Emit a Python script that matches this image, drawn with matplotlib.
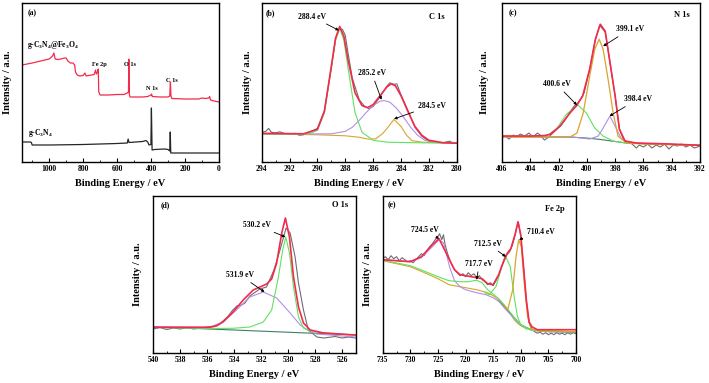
import matplotlib
matplotlib.use("Agg")
import matplotlib.pyplot as plt
from matplotlib.ticker import MultipleLocator

plt.rcParams['font.family'] = ['Liberation Serif', 'DejaVu Serif']
plt.rcParams['font.weight'] = 'bold'
plt.rcParams['mathtext.fontset'] = 'custom'
plt.rcParams['mathtext.rm'] = 'Liberation Serif:bold'
plt.rcParams['mathtext.it'] = 'Liberation Serif:bold'
plt.rcParams['mathtext.bf'] = 'Liberation Serif:bold'
plt.rcParams['mathtext.default'] = 'rm'

# ---------------- data ----------------
# (a) survey spectra
a_red_E = [1160, 1100, 1050, 1000, 980, 972, 965, 950, 930, 910, 900, 890, 875, 860, 850, 845, 835, 820,
           800, 790, 782, 770, 750, 735, 727, 722, 715, 711, 708, 700, 650, 600, 560, 540, 533, 531, 528,
           524, 500, 450, 420, 400, 397, 393, 350, 300, 290, 286, 283, 278, 200, 120, 100, 80, 60, 55, 50, 30, 0]
a_red_I = [97, 99, 101, 103, 106, 109, 103, 102.5, 103, 104, 104, 101, 99, 99, 97, 90, 87, 86,
           86.5, 89, 86, 86.5, 87, 87.5, 92, 88, 90, 93, 70, 67, 67, 67.5, 67.5, 69, 70, 103, 68,
           65, 65, 65, 65.5, 67, 68, 65.5, 65, 65, 66, 80, 66, 63.5, 63, 63, 64, 63.5, 64, 65.5, 62, 61, 60]
a_blk_E = [1160, 1110, 1105, 1100, 1000, 800, 600, 540, 535, 530, 450, 430, 420, 412, 401, 398, 394,
           380, 320, 300, 290, 287, 284, 250, 100, 0]
a_blk_I = [20, 20, 19.5, 17, 17, 17.5, 18.5, 19, 23, 19.5, 20.5, 21.5, 20, 17, 17.5, 54, 12,
           12.5, 13, 12.5, 11, 30, 9, 9, 9, 9]

# (b) C 1s
b_raw_E = [294, 293.7, 293.5, 293.3, 293, 292.7, 292.4, 292, 291.6, 291.3, 291, 290.6, 290, 289.5, 289,
           288.7, 288.4, 288.2, 288, 287.8, 287.5, 287, 286.6, 286.3, 286, 285.5, 285, 284.8, 284.5,
           284.3, 284, 283.5, 283, 282.5, 282, 281.5, 281, 280.5, 280.3, 280]
b_raw_I = [30, 31, 34, 30, 29.5, 30.5, 29, 28, 29, 27, 27.5, 30, 34, 52, 95,
           124, 135, 134, 128, 110, 85, 63, 56, 54, 56, 66, 77, 80, 78.5,
           79, 68, 52, 35, 26, 21, 20, 19.5, 21, 19.5, 19]
b_env_E = [294, 291, 290, 289.5, 289, 288.7, 288.4, 288.1, 287.8, 287.3, 286.8, 286.4, 286, 285.5, 285,
           284.7, 284.4, 284, 283.5, 283, 282.5, 282, 281, 280]
b_env_I = [29, 28.5, 33, 51, 97, 125, 137, 127, 103, 70, 57, 55, 58, 67, 76,
           79, 77, 67, 51, 36, 27, 22, 19.5, 19]
b_c1_E = [294, 291, 290.5, 290, 289.5, 289, 288.7, 288.4, 288.1, 287.8, 287.3, 286.8, 286, 285, 283, 280]
b_c1_I = [28.3, 28, 29, 32, 50, 95, 123, 135, 123, 95, 50, 30, 22, 20, 19.5, 19]
b_c2_E = [294, 289, 288, 287.5, 287, 286.5, 286, 285.5, 285.2, 284.8, 284.3, 283.8, 283.3, 282.8, 282.3, 281.5, 280]
b_c2_I = [28, 28.5, 31, 35, 42, 50, 57, 61.5, 62, 60.5, 54, 45, 35, 27, 22, 20, 19]
b_c3_E = [294, 292, 290, 288, 287, 286.3, 285.8, 285.3, 285, 284.5, 284, 283.6, 283.2, 282.5, 280]
b_c3_I = [28.3, 28, 27.5, 26.5, 25, 23, 23.5, 29, 34, 43, 36, 27, 21.5, 20, 19]

# (c) N 1s
c_raw_E = [406, 405.8, 405.5, 405.2, 405, 404.7, 404.4, 404.1, 403.8, 403.5, 403.3, 403, 402.7, 402.4,
           402.1, 401.8, 401.5, 401.2, 400.9, 400.7, 400.5, 400.2, 399.8, 399.4, 399.1, 398.7, 398.4,
           398.0, 397.7, 397.4, 397.1, 396.8, 396.5, 396.3, 396.0, 395.7, 395.4, 395.1, 394.8, 394.5,
           394.2, 393.9, 393.6, 393.3, 393, 392.7, 392.4, 392]
c_raw_I = [24, 26, 23, 27, 25, 28, 26, 29, 25, 29, 27, 22, 25, 29,
           33, 37, 43, 50, 56, 58, 62, 69, 93, 122, 137, 130, 103,
           66, 33, 22, 20, 18, 14, 17, 15, 18, 14, 17, 15, 18,
           13, 17, 16, 18, 15, 17, 14, 16]
c_env_E = [406, 404, 403, 402.6, 401.9, 401.2, 400.7, 400.3, 399.8, 399.4, 399.05, 398.7, 398.4, 398.0,
           397.7, 397.3, 396.5, 394, 392]
c_env_I = [26, 26, 26.5, 27.7, 36, 49, 57, 66, 93, 123, 138, 131, 103, 66, 33, 21, 19, 18, 16.7]
c_c1_E = [406, 402, 401.2, 400.7, 400.26, 399.8, 399.44, 399.13, 398.85, 398.5, 398.14, 397.8, 397.2, 396, 392]
c_c1_I = [25, 25, 25, 29, 49, 86, 113, 123, 113, 83, 49, 26, 19, 18, 16.7]
c_c2_E = [406, 402.86, 402.15, 401.44, 400.62, 400.03, 399.44, 398.85, 398.14, 397.2, 394, 392]
c_c2_I = [26, 26, 33, 48, 57, 49, 34, 26, 21, 19, 17.5, 16.7]
c_c3_E = [406, 401, 399.8, 399.2, 398.85, 398.37, 397.9, 397.55, 396.96, 394, 392]
c_c3_I = [25.5, 25, 23, 26, 34, 46, 33, 23, 19, 17.5, 16.7]
c_bg_E = [406, 401.2, 400, 399, 398, 397.2, 394, 392]
c_bg_I = [25.5, 25, 24, 22.5, 20.5, 19, 17.5, 16.7]

# (d) O 1s
d_raw_E = [540, 539.5, 539, 538.5, 538, 537.5, 537, 536.5, 536, 535.5, 535, 534.5, 534.1, 533.8, 533.45,
           533.2, 532.84, 532.1, 531.6, 531.05, 530.6, 530.15, 529.85, 529.48, 529.23, 528.86, 528.5,
           527.86, 527.36, 526.5, 526, 525.5, 525]
d_raw_I = [21, 22.5, 20.5, 22, 21, 22.5, 21, 22, 23, 24, 27, 33, 40, 44, 45,
           47, 54, 61, 63, 80, 100, 122, 117, 93, 67, 40, 20,
           13, 12, 13.5, 12, 13, 12]
d_env_E = [540, 535.82, 535.32, 534.83, 534.08, 533.33, 532.59, 532.09, 531.59, 531.22, 530.85, 530.47,
           530.2, 529.9, 529.6, 529.23, 528.86, 528.36, 527.36, 525]
d_env_I = [22.7, 22.7, 24, 28, 38, 50, 60, 63, 66, 71, 87, 117, 132, 113, 73, 43, 27, 20, 17, 15]
d_c1_E = [540, 536, 534.1, 532.84, 531.84, 531.22, 530.72, 530.4, 530.17, 529.9, 529.6, 529.23, 528.86, 528.1, 525]
d_c1_I = [22.5, 21.5, 21.7, 23, 28, 40, 73, 100, 113, 97, 63, 33, 22, 18, 15]
d_c2_E = [540, 535.82, 534.83, 533.83, 532.84, 531.84, 530.85, 529.85, 529.1, 528.36, 527.86, 525]
d_c2_I = [23.3, 22.7, 28, 40, 53, 58, 52, 37, 25, 18, 16, 13]
d_bg_E = [540, 525]
d_bg_I = [23.3, 15]

# (e) Fe 2p
e_raw_E = [735, 734.5, 734, 733.5, 733, 732.5, 732, 731.5, 731, 730.5, 730, 729.5, 729, 728.5, 728, 727.5,
           727, 726.5, 726, 725.5, 725, 724.7, 724.3, 724, 723.7, 723.3, 723, 722.5, 722, 721.5, 721,
           720.5, 720, 719.5, 719, 718.5, 718, 717.5, 717, 716.5, 716, 715.5, 715, 714.5, 714, 713.5,
           713, 712.5, 712, 711.5, 711, 710.7, 710.4, 710, 709.5, 709, 708.5, 708, 707.5, 707, 706.5,
           706, 705.5, 705, 704.5, 704, 703.5, 703, 702.5, 702, 701.5, 701, 700.5, 700]
e_raw_I = [94, 96, 93, 97, 94, 96, 92, 95, 93, 91, 92, 90, 93, 96, 99, 97,
           102, 106, 109, 113, 116, 119, 113, 118, 108, 100, 95, 88, 83, 80, 77,
           79, 76, 80, 77, 79, 75, 77, 73, 71, 68, 70, 67, 72, 77, 86,
           92, 98, 101, 108, 118, 126, 129, 116, 85, 52, 30, 24, 21, 19.5, 20.5,
           18.5, 20, 18, 19.5, 18, 20, 18.5, 19.5, 18, 20, 18.5, 20, 19]
e_env_E = [735, 730, 728, 726, 724.8, 723, 722, 721, 720, 718, 717, 716, 715, 714, 713, 712.5, 711.8,
           711, 710.5, 710, 709.5, 709, 708.5, 708, 707, 700]
e_env_I = [93, 91, 96, 108, 114, 94, 83, 78, 77, 75, 74, 69, 68, 78, 93, 99, 104,
           119, 131, 118, 86, 53, 31, 26, 23, 23]
e_c1_E = [735, 730, 728, 726, 724.8, 724, 723.3, 722.9, 722, 721, 720, 718, 716.3, 715, 713.9, 713, 712,
          711, 710, 709, 708, 705, 700]
e_c1_I = [93, 91, 95, 106, 113, 110, 95, 86, 72, 66, 63, 60, 58, 55, 51, 45, 39,
          33, 28, 25, 23, 21, 21]
e_c2_E = [735, 730, 727, 725, 723, 721, 719.5, 718, 717, 716, 715, 714, 713, 712, 711, 710, 709, 708, 705, 700]
e_c2_I = [92.5, 87, 80.5, 76, 72, 71, 71, 72.5, 70, 63, 58.5, 54, 48, 41, 34, 28, 25, 22.5, 21.5, 21]
e_c3_E = [716.5, 715.7, 714.5, 713.6, 712.8, 711.9, 711.2, 710.6, 710.0, 709.1, 708, 705, 700]
e_c3_I = [60, 58, 66, 83, 97, 86, 56, 36, 28, 24, 22.5, 21.5, 21]
e_c4_E = [713, 712.36, 711.46, 710.86, 710.38, 709.9, 709.36, 708.76, 708.16, 707, 700]
e_c4_I = [47, 43, 63, 96, 113, 106, 69, 36, 24, 22, 21]
e_bg_E = [735, 730, 727, 725, 723, 720, 718, 716, 715, 714, 713, 712.5, 712, 711.2, 710.5, 709.7, 708, 705, 700]
e_bg_I = [92, 86, 79, 74, 68, 65, 63, 60, 57, 53, 47, 44, 40, 33, 29, 26, 23, 21.5, 21]
e_bg2_E = [714, 712, 710, 708, 705, 700]
e_bg2_I = [52, 40, 28, 22.5, 21, 20.5]

# ---------------- style ----------------
RED = '#f42a4c'
GREEN = '#5fe35f'
PURPLE = '#b48ee6'
ORANGE = '#d9a52a'
GRAY = '#6e6e6e'
BG = '#3f7f62'
TICK_FS = 5.5
LAB_FS = 7.5
ANN_FS = 5.5

W, H = 709, 383
fig = plt.figure(figsize=(W / 100, H / 100), dpi=100)


def add_ax(l, r, t, b):
    return fig.add_axes([l / W, 1 - b / H, (r - l) / W, (b - t) / H])


def style(ax, xlim, ylim, major, minor, ylab_x):
    ax.set_xlim(*xlim)
    ax.set_ylim(*ylim)
    ax.set_yticks([])
    ax.xaxis.set_major_locator(MultipleLocator(major))
    ax.xaxis.set_minor_locator(MultipleLocator(minor))
    ax.tick_params(axis='x', which='major', direction='in', length=3, width=0.8,
                   labelsize=TICK_FS, pad=2.5)
    ax.tick_params(axis='x', which='minor', direction='in', length=1.6, width=0.6)
    for lab in ax.get_xticklabels():
        lab.set_fontweight('bold')
    for s in ax.spines.values():
        s.set_linewidth(1.0)
    ax.set_xlabel('Binding Energy / eV', fontsize=LAB_FS, fontweight='bold')
    ax.set_ylabel('Intensity / a.u.', fontsize=LAB_FS, fontweight='bold')
    ax.xaxis.set_label_coords(0.5, -0.11)
    ax.yaxis.set_label_coords(ylab_x, 0.5)


def corner(ax, letter, label, lx, ly, rx, ry):
    ax.text(lx, ly, letter, transform=ax.transAxes, fontsize=ANN_FS, fontweight='bold',
            ha='center', va='center')
    if label:
        ax.text(rx, ry, label, transform=ax.transAxes, fontsize=6, fontweight='bold',
                ha='center', va='center')


def ann(ax, txt, tip, pos):
    ax.annotate(txt, xy=tip, xytext=pos, fontsize=ANN_FS, fontweight='bold', ha='center', va='center',
                arrowprops=dict(arrowstyle='-|>', color='k', lw=0.6, mutation_scale=4,
                                shrinkA=1, shrinkB=0))


# (a)
ax = add_ax(22, 219, 3, 162)
ax.plot(a_red_E, a_red_I, color=RED, lw=0.9)
ax.plot(a_blk_E, a_blk_I, color='#262626', lw=0.9)
style(ax, (1160, 0), (0, 159), 200, 100, -0.05)
corner(ax, '(a)', None, 0.05, 0.935, 0, 0)
ax.text(0.025, 0.735, r'g-C$_3$N$_4$@Fe$_3$O$_4$', transform=ax.transAxes, fontsize=5.5,
        fontweight='bold', ha='left', va='center')
ax.text(0.03, 0.18, r'g-C$_3$N$_4$', transform=ax.transAxes, fontsize=5.5,
        fontweight='bold', ha='left', va='center')
for t, x, y in [('Fe 2p', 702, 97.7), ('O 1s', 525, 97.7), ('N 1s', 398, 73), ('C 1s', 280, 81.7)]:
    ax.text(x, y, t, fontsize=4.5, fontweight='bold', ha='center', va='center')

# (b)
ax = add_ax(261.7, 456.7, 3, 162)
ax.plot(b_raw_E, b_raw_I, color=GRAY, lw=0.8)
ax.plot(b_c3_E, b_c3_I, color=ORANGE, lw=0.8)
ax.plot(b_c2_E, b_c2_I, color=PURPLE, lw=0.8)
ax.plot(b_c1_E, b_c1_I, color=GREEN, lw=0.8)
ax.plot(b_env_E, b_env_I, color=RED, lw=1.2)
style(ax, (294, 280), (0, 160.7), 2, 1, -0.05)
corner(ax, '(b)', 'C 1s', 0.045, 0.935, 0.9, 0.915)
ann(ax, '288.4 eV', (288.45, 133), (290.4, 147))
ann(ax, '285.2 eV', (285.4, 63), (286.1, 90))
ann(ax, '284.5 eV', (284.5, 43.5), (281.8, 57))

# (c)
ax = add_ax(502, 700, 3, 162)
ax.plot(c_raw_E, c_raw_I, color=GRAY, lw=0.8)
ax.plot(c_bg_E, c_bg_I, color=BG, lw=0.8)
ax.plot(c_c2_E, c_c2_I, color=GREEN, lw=0.8)
ax.plot(c_c3_E, c_c3_I, color=PURPLE, lw=0.8)
ax.plot(c_c1_E, c_c1_I, color=ORANGE, lw=0.9)
ax.plot(c_env_E, c_env_I, color=RED, lw=1.2)
style(ax, (406, 392), (0, 159.3), 2, 1, -0.066)
corner(ax, '(c)', 'N 1s', 0.057, 0.935, 0.908, 0.925)
ann(ax, '399.1 eV', (398.85, 116), (396.96, 133))
ann(ax, '400.6 eV', (400.7, 57), (402.15, 78))
ann(ax, '398.4 eV', (398.4, 46), (396.4, 63))

# (d)
ax = add_ax(153.3, 355.5, 196, 352.7)
ax.plot(d_raw_E, d_raw_I, color=GRAY, lw=0.8)
ax.plot(d_bg_E, d_bg_I, color=BG, lw=0.8)
ax.plot(d_c2_E, d_c2_I, color=PURPLE, lw=0.8)
ax.plot(d_c1_E, d_c1_I, color=GREEN, lw=0.8)
ax.plot(d_env_E, d_env_I, color=RED, lw=1.2)
style(ax, (540, 525), (-2.7, 154), 2, 1, -0.056)
corner(ax, '(d)', 'O 1s', 0.058, 0.943, 0.923, 0.943)
ann(ax, '530.2 eV', (530.2, 113), (532.34, 125))
ann(ax, '531.9 eV', (531.75, 58), (533.58, 75))

# (e)
ax = add_ax(382.7, 576, 196, 352.7)
ax.plot(e_raw_E, e_raw_I, color=GRAY, lw=0.8)
ax.plot(e_bg_E, e_bg_I, color=ORANGE, lw=0.8)
ax.plot(e_bg2_E, e_bg2_I, color=BG, lw=0.8)
ax.plot(e_c1_E, e_c1_I, color=PURPLE, lw=0.8)
ax.plot(e_c2_E, e_c2_I, color=GREEN, lw=0.8)
ax.plot(e_c3_E, e_c3_I, color=GREEN, lw=0.8)
ax.plot(e_c4_E, e_c4_I, color=ORANGE, lw=0.9)
ax.plot(e_env_E, e_env_I, color=RED, lw=1.2)
style(ax, (735, 700), (0, 156.7), 5, 2.5, -0.055)
corner(ax, '(e)', 'Fe 2p', 0.047, 0.943, 0.891, 0.92)
ann(ax, '724.5 eV', (724.8, 114), (727.4, 123))
ann(ax, '717.7 eV', (718.0, 73), (717.5, 89))
ann(ax, '712.5 eV', (712.7, 96), (716.0, 109))
ann(ax, '710.4 eV', (710.3, 113), (706.4, 121))

fig.savefig('out.png', dpi=100)
